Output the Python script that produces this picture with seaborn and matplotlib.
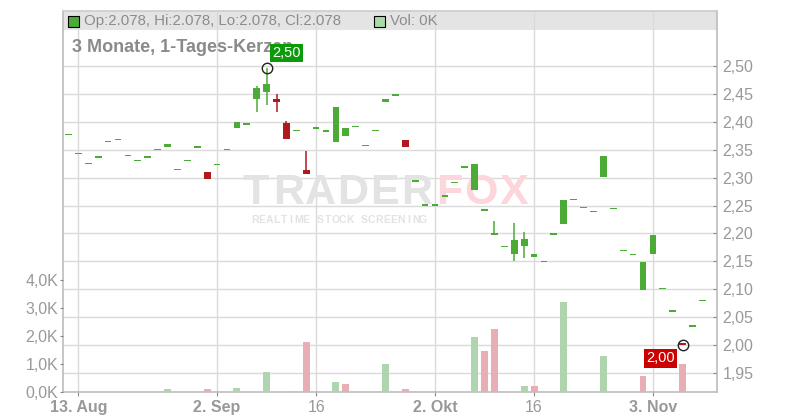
import pandas as pd
import matplotlib
matplotlib.use("Agg")
import matplotlib.pyplot as plt
from matplotlib.patches import Rectangle
import seaborn as sns

# trading days shown (12 Aug - 10 Nov 2025)
dates = pd.bdate_range("2025-08-12", "2025-11-10")

opens = [2.376, 2.342, 2.324, 2.335, 2.363, 2.367, 2.338, 2.329, 2.335, 2.349,
         2.354, 2.313, 2.329, 2.353, 2.310, 2.322, 2.349, 2.389, 2.394, 2.440,
         2.454, 2.441, 2.398, 2.383, 2.313, 2.387, 2.382, 2.363, 2.375, 2.390,
         2.356, 2.383, 2.435, 2.446, 2.367, 2.292, 2.249, 2.249, 2.265, 2.290,
         2.317, 2.278, 2.240, 2.198, 2.175, 2.164, 2.178, 2.157, 2.148, 2.197,
         2.217, 2.259, 2.245, 2.238, 2.301, 2.243, 2.168, 2.161, 2.099, 2.164,
         2.100, 2.059, 2.001, 2.032, 2.078]
closes = [2.376, 2.342, 2.324, 2.335, 2.363, 2.367, 2.338, 2.329, 2.335, 2.349,
          2.360, 2.313, 2.329, 2.353, 2.298, 2.322, 2.349, 2.400, 2.394, 2.461,
          2.468, 2.436, 2.370, 2.383, 2.307, 2.387, 2.382, 2.427, 2.389, 2.390,
          2.356, 2.383, 2.441, 2.446, 2.354, 2.292, 2.249, 2.249, 2.265, 2.290,
          2.317, 2.324, 2.240, 2.198, 2.175, 2.188, 2.190, 2.163, 2.148, 2.197,
          2.260, 2.259, 2.245, 2.238, 2.339, 2.243, 2.168, 2.161, 2.149, 2.198,
          2.100, 2.059, 2.000, 2.032, 2.078]
highs = [2.376, 2.342, 2.324, 2.335, 2.363, 2.367, 2.338, 2.329, 2.335, 2.349,
         2.360, 2.313, 2.329, 2.353, 2.310, 2.322, 2.349, 2.400, 2.394, 2.464,
         2.496, 2.450, 2.401, 2.383, 2.348, 2.387, 2.382, 2.427, 2.389, 2.390,
         2.356, 2.383, 2.441, 2.446, 2.367, 2.292, 2.249, 2.249, 2.265, 2.290,
         2.317, 2.324, 2.240, 2.222, 2.175, 2.219, 2.203, 2.163, 2.148, 2.197,
         2.260, 2.259, 2.245, 2.238, 2.339, 2.243, 2.168, 2.161, 2.149, 2.198,
         2.100, 2.059, 2.001, 2.032, 2.078]
lows = [2.376, 2.342, 2.324, 2.335, 2.363, 2.367, 2.338, 2.329, 2.335, 2.349,
        2.354, 2.313, 2.329, 2.353, 2.298, 2.322, 2.349, 2.389, 2.394, 2.418,
        2.431, 2.418, 2.370, 2.383, 2.307, 2.387, 2.382, 2.363, 2.375, 2.390,
        2.356, 2.383, 2.435, 2.446, 2.354, 2.292, 2.249, 2.249, 2.265, 2.290,
        2.317, 2.278, 2.240, 2.198, 2.175, 2.151, 2.156, 2.157, 2.148, 2.197,
        2.217, 2.259, 2.245, 2.238, 2.301, 2.243, 2.168, 2.161, 2.099, 2.164,
        2.100, 2.059, 2.000, 2.032, 2.078]
# volume in thousands
volumes = [0, 0, 0, 0, 0, 0, 0, 0, 0, 0,
           0.10, 0, 0, 0, 0.10, 0, 0, 0.15, 0, 0,
           0.71, 0, 0, 0.03, 1.79, 0, 0, 0.36, 0.29, 0,
           0, 0, 1.00, 0, 0.11, 0, 0, 0, 0, 0,
           0, 1.96, 1.46, 2.25, 0, 0, 0.21, 0.21, 0, 0,
           3.21, 0, 0, 0, 1.29, 0, 0, 0, 0.57, 0.05,
           0, 0, 1.00, 0, 0]

tick_dates = ["2025-08-13", "2025-09-02", "2025-09-16", "2025-10-02", "2025-10-16", "2025-11-03"]
tick_labels = ["13. Aug", "2. Sep", "16", "2. Okt", "16", "3. Nov"]
price_ticks = [1.95, 2.00, 2.05, 2.10, 2.15, 2.20, 2.25, 2.30, 2.35, 2.40, 2.45, 2.50]
vol_ticks = [0, 1, 2, 3, 4]

GREEN = "#4cab36"
RED = "#b0191e"
GRAY = "#999999"

df = pd.DataFrame({"date": dates, "open": opens, "high": highs, "low": lows,
                   "close": closes, "vol": volumes})
df["idx"] = range(len(df))
df["up"] = df["close"] >= df["open"]
df["dir"] = ["up" if i == 0 or c >= p else "down"
             for i, (c, p) in enumerate(zip(df["close"], df["close"].shift(1)))]

sns.set_style("white")
plt.rcParams["font.family"] = ["Liberation Sans", "DejaVu Sans"]

fig = plt.figure(figsize=(8, 4.2), dpi=100)
ax = fig.add_axes([63 / 800, 28 / 420, 654 / 800, 381 / 420])
ax_vol = ax.twinx()

# header band
ax.add_patch(Rectangle((0, 1 - 19 / 381), 1, 19 / 381, transform=ax.transAxes,
                       fc="#e4e4e4", ec="none", zorder=0.3))

# watermark
letters = "TRADERFOX"
for k, ch in enumerate(letters):
    ax.text((256 + 32.2 * k) / 800, 1 - 204 / 420, ch, transform=fig.transFigure,
            ha="center", va="baseline", fontsize=31, fontweight="bold",
            color="#e3e3e3" if k < 6 else "#fcd6da", zorder=0.8)
sub = "REALTIME STOCK SCREENING"
for k, ch in enumerate(sub):
    ax.text((254.5 + 7.33 * k) / 800, 1 - 223 / 420, ch, transform=fig.transFigure,
            ha="center", va="baseline", fontsize=7.5, fontweight="bold",
            color="#e3e3e3", zorder=0.8)

# candles
colors = [GREEN if u else RED for u in df["up"]]
ax.vlines(df["idx"], df["low"], df["high"], colors=colors, lw=1.1, zorder=2)
body_lo = df[["open", "close"]].min(axis=1)
body_h = (df["close"] - df["open"]).abs().clip(lower=0.003)
ax.bar(df["idx"], body_h, bottom=body_lo, width=0.68, color=colors, lw=0, zorder=3)

# volume
sns.barplot(data=df, x="idx", y="vol", hue="dir", native_scale=True, dodge=False,
            palette={"up": "#a9dba9", "down": "#f0a6ae"}, width=0.7, linewidth=0,
            errorbar=None, legend=False, ax=ax_vol)

ax.set_xlim(-0.555, 65.47)
ax.set_ylim(1.9158, 2.5986)
ax_vol.set_ylim(0, 381 / 28)

tick_pos = [int(df.index[df["date"] == pd.Timestamp(d)][0]) for d in tick_dates]
ax.set_xticks(tick_pos)
ax.set_xticklabels(tick_labels)
for lab in ax.get_xticklabels():
    if lab.get_text() != "16":
        lab.set_fontweight("bold")
ax.set_yticks(price_ticks)
ax.set_yticklabels([f"{p:.2f}".replace(".", ",") for p in price_ticks])
ax_vol.set_yticks(vol_ticks)
ax_vol.set_yticklabels([f"{v:.1f}K".replace(".", ",") for v in vol_ticks])
ax.set_xlabel("")
ax_vol.set_xlabel("")
ax_vol.set_ylabel("")

ax.yaxis.tick_right()
ax_vol.yaxis.tick_left()
ax.tick_params(axis="y", right=True, left=False, labelright=True, labelleft=False,
               direction="in", length=3, color="#888888", labelcolor=GRAY,
               labelsize=11.5, pad=4)
ax_vol.tick_params(axis="y", left=True, right=False, labelleft=True, labelright=False,
                   direction="out", length=2.5, color="#888888", labelcolor=GRAY,
                   labelsize=11.5, pad=1)
ax.tick_params(axis="x", bottom=True, direction="out", length=3, color="#888888",
               labelcolor=GRAY, labelsize=11.5, pad=3)

ax.set_axisbelow(True)
ax.grid(True, color="#dadada", lw=1)
ax_vol.grid(False)
for s in ax_vol.spines.values():
    s.set_visible(False)
for name, s in ax.spines.items():
    s.set_color("#bcbcbc" if name != "top" else "#cccccc")
    s.set_linewidth(1.2)

# header texts
ax.text(72 / 800, 1 - 48 / 420, "3 Monate, 1-Tages-Kerzen", transform=fig.transFigure,
        ha="left", va="center", fontsize=13, fontweight="bold", color="#8a8a8a", zorder=5)
ax.text(84 / 800, 1 - 21 / 420, "Op:2.078, Hi:2.078, Lo:2.078, Cl:2.078",
        transform=fig.transFigure, ha="left", va="center", fontsize=10.8,
        color="#8c8c8c", zorder=5)
ax.text(390 / 800, 1 - 21 / 420, "Vol: 0K", transform=fig.transFigure, ha="left",
        va="center", fontsize=10.8, color="#8c8c8c", zorder=5)
fig.add_artist(Rectangle((68 / 800, 1 - 27 / 420), 11 / 800, 11 / 420,
                         transform=fig.transFigure, fc=GREEN, ec="black", lw=0.8))
fig.add_artist(Rectangle((374 / 800, 1 - 27 / 420), 11 / 800, 11 / 420,
                         transform=fig.transFigure, fc="#a9dba9", ec="black", lw=0.8))

# high / low markers
hi_i = int(df["high"].idxmax())
lo_i = int(df["low"].idxmin())
ax.plot(hi_i, df["high"][hi_i], marker="o", ms=7.5, mfc="none", mec="#222222", mew=1, zorder=6)
ax.plot(lo_i, df["low"][lo_i], marker="o", ms=7.5, mfc="none", mec="#222222", mew=1, zorder=6)
ax.annotate(f"{df['high'][hi_i]:.2f}".replace(".", ","), xy=(hi_i, df["high"][hi_i]),
            xytext=(14.6, 11.2), textcoords="offset points", ha="center", va="center",
            color="white", fontsize=10.5, zorder=7, annotation_clip=False,
            bbox=dict(boxstyle="square,pad=0.15", fc="#0a9a0a", ec="none"))
ax.annotate(f"{df['low'][lo_i]:.2f}".replace(".", ","), xy=(lo_i, df["low"][lo_i]),
            xytext=(-15.6, -9.6), textcoords="offset points", ha="center", va="center",
            color="white", fontsize=10.5, zorder=7, annotation_clip=False,
            bbox=dict(boxstyle="square,pad=0.15", fc="#cc0000", ec="none"))

fig.savefig("out.png", dpi=100)
